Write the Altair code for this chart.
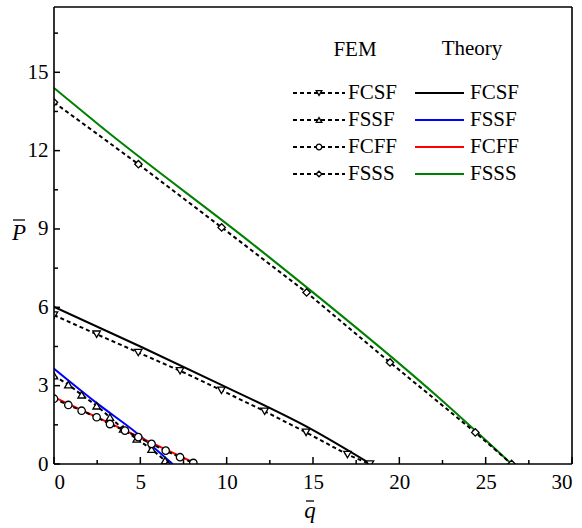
import altair as alt
import pandas as pd

# ---------------- data ----------------
series = ["FCSF", "FSSF", "FCFF", "FSSS"]
theory_colors = ["#000000", "#0000ff", "#ff0000", "#008000"]
fem_shapes = ["triangle-down", "triangle-up", "circle", "diamond"]

# FEM results (dashed + markers)
fcsf_fem_q = [0.0, 2.47, 4.88, 7.3, 9.7, 12.2, 14.6, 17.0, 18.3]
fcsf_fem_p = [5.70, 4.97, 4.27, 3.57, 2.82, 2.02, 1.21, 0.36, 0.0]
fssf_fem_q = [0.0, 0.83, 1.6, 2.47, 3.24, 4.0, 4.79, 5.65, 6.43, 6.6]
fssf_fem_p = [3.38, 3.04, 2.65, 2.23, 1.79, 1.34, 0.96, 0.57, 0.13, 0.0]
fcff_fem_q = [0.0, 0.83, 1.6, 2.47, 3.24, 4.11, 4.88, 5.65, 6.47, 7.3, 8.07]
fcff_fem_p = [2.50, 2.26, 2.04, 1.79, 1.53, 1.28, 1.03, 0.77, 0.51, 0.26, 0.04]
fsss_fem_q = [0.0, 4.89, 9.71, 14.63, 19.46, 24.4, 26.5]
fsss_fem_p = [13.85, 11.48, 9.06, 6.57, 3.89, 1.21, 0.0]

# Theory (solid lines)
fcsf_th_q = [0.0, 5.0, 9.6, 15.0, 18.35]
fcsf_th_p = [6.02, 4.50, 3.06, 1.30, 0.0]
fssf_th_q = [0.0, 2.5, 4.8, 6.87]
fssf_th_p = [3.65, 2.32, 1.18, 0.0]
fcff_th_q = [0.0, 4.98, 8.26]
fcff_th_p = [2.56, 1.02, 0.0]
fsss_th_q = [0.0, 2.66, 11.93, 22.16, 26.5]
fsss_th_p = [14.40, 12.95, 8.20, 2.61, 0.0]

x_major = [0, 5, 10, 15, 20, 25, 30]
x_minor = [2.5, 7.5, 12.5, 17.5, 22.5, 27.5]
y_major = [0, 3, 6, 9, 12, 15]
y_minor = [1.5, 4.5, 7.5, 10.5, 13.5, 16.5]

# ---------------- layout ----------------
W, H = 518, 457
FONT = "Liberation Serif"
FS = 21

def frame(qs, ps, name):
    return pd.DataFrame({"q": qs, "p": ps, "series": name, "i": list(range(len(qs)))})

fem = pd.concat([
    frame(fcsf_fem_q, fcsf_fem_p, "FCSF"),
    frame(fssf_fem_q, fssf_fem_p, "FSSF"),
    frame(fcff_fem_q, fcff_fem_p, "FCFF"),
    frame(fsss_fem_q, fsss_fem_p, "FSSS"),
])
theory = pd.concat([
    frame(fcsf_th_q, fcsf_th_p, "FCSF"),
    frame(fssf_th_q, fssf_th_p, "FSSF"),
    frame(fcff_th_q, fcff_th_p, "FCFF"),
    frame(fsss_th_q, fsss_th_p, "FSSS"),
])

xs = alt.Scale(domain=[0, 30], nice=False, zero=False, padding=0)
ys = alt.Scale(domain=[0, 17.5], nice=False, zero=False, padding=0)
xax = alt.Axis(values=x_major, ticks=False, domain=False, grid=False, labelFont=FONT,
               labelFontSize=FS, labelColor="black", labelPadding=7, title=None)
yax = alt.Axis(values=y_major, ticks=False, domain=False, grid=False, labelFont=FONT,
               labelFontSize=FS, labelColor="black", labelPadding=6, title=None)

X = alt.X("q:Q", scale=xs, axis=xax)
Y = alt.Y("p:Q", scale=ys, axis=yax)

theory_lines = alt.Chart(theory).mark_line(strokeWidth=2, clip=True, interpolate="monotone").encode(
    x=X, y=Y, order="i:Q",
    color=alt.Color("series:N", scale=alt.Scale(domain=series, range=theory_colors), legend=None),
)

fem_lines = alt.Chart(fem).mark_line(strokeWidth=2, color="black", strokeDash=[4, 3], clip=True).encode(
    x=X, y=Y, order="i:Q", detail="series:N",
)

fem_points = alt.Chart(fem).mark_point(size=55, fill="white", stroke="black", strokeWidth=1.3,
                                       opacity=1, fillOpacity=1, clip=True).encode(
    x=X, y=Y,
    shape=alt.Shape("series:N", scale=alt.Scale(domain=series, range=fem_shapes), legend=None),
)

# inward tick marks
def ticks_x(vals, length):
    df = pd.DataFrame({"q": vals})
    return alt.Chart(df).mark_rule(color="black", strokeWidth=1.5).encode(
        x=alt.X("q:Q", scale=xs, axis=xax), y=alt.value(H), y2=alt.value(H - length))

def ticks_y(vals, length):
    df = pd.DataFrame({"p": vals})
    return alt.Chart(df).mark_rule(color="black", strokeWidth=1.5).encode(
        y=alt.Y("p:Q", scale=ys, axis=yax), x=alt.value(0), x2=alt.value(length))

layers = [theory_lines, fem_lines, fem_points,
          ticks_x(x_major, 7), ticks_x(x_minor, 4), ticks_y(y_major, 6), ticks_y(y_minor, 4)]

one = pd.DataFrame({"a": [0]})

# plot frame
for x1, x2, y1, y2 in [(0, W, 0, 0), (0, W, H, H), (0, 0, 0, H), (W, W, 0, H)]:
    layers.append(alt.Chart(one).mark_rule(color="black", strokeWidth=1.6).encode(
        x=alt.value(x1), x2=alt.value(x2), y=alt.value(y1), y2=alt.value(y2)))

# ---------------- legend (drawn manually) ----------------
row_y = [86, 113, 140, 167]

def txt(s, x, y, align="left", italic=False, size=FS):
    kw = dict(font=FONT, fontSize=size, align=align, baseline="middle", color="black")
    if italic:
        kw["fontStyle"] = "italic"
    return alt.Chart(one).mark_text(**kw).encode(x=alt.value(x), y=alt.value(y), text=alt.value(s))

layers.append(txt("FEM", 301, 43, align="center"))
layers.append(txt("Theory", 418, 42, align="center"))
for name, col, shp, ry in zip(series, theory_colors, fem_shapes, row_y):
    layers.append(alt.Chart(one).mark_rule(color="black", strokeWidth=2, strokeDash=[4, 3]).encode(
        x=alt.value(239), x2=alt.value(291), y=alt.value(ry)))
    layers.append(alt.Chart(one).mark_point(shape=shp, size=32, fill="white", stroke="black",
                                            strokeWidth=1.3, opacity=1, fillOpacity=1).encode(
        x=alt.value(265), y=alt.value(ry)))
    layers.append(txt(name, 294, ry))
    layers.append(alt.Chart(one).mark_rule(color=col, strokeWidth=2.2).encode(
        x=alt.value(361), x2=alt.value(410), y=alt.value(ry)))
    layers.append(txt(name, 416, ry))

# axis titles with overbars
layers.append(txt("P", -35, 226, align="center", italic=True, size=23))
layers.append(alt.Chart(one).mark_rule(color="black", strokeWidth=1.3).encode(
    x=alt.value(-41), x2=alt.value(-29), y=alt.value(213)))
layers.append(txt("q", 256, 504, align="center", italic=True, size=23))
layers.append(alt.Chart(one).mark_rule(color="black", strokeWidth=1.3).encode(
    x=alt.value(252), x2=alt.value(260), y=alt.value(494)))

chart = alt.layer(*layers).properties(
    width=W, height=H,
    background="white",
    view=alt.ViewBackground(stroke=None),
    autosize=alt.AutoSizeParams(type="none"),
    padding={"left": 54, "top": 7, "right": 10, "bottom": 64},
)

chart.save("out.html", embed_options={"renderer": "svg", "actions": False})
